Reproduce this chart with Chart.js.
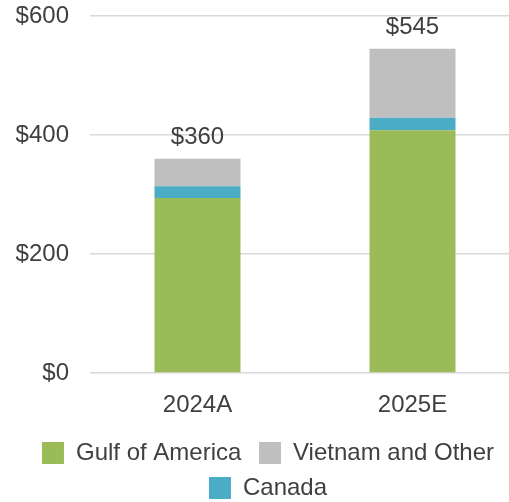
<!DOCTYPE html>
<html>
<head>
<meta charset="utf-8">
<script src="https://cdn.jsdelivr.net/npm/chart.js@4/dist/chart.umd.min.js"></script>
<style>
  html, body { margin: 0; padding: 0; background: #fff; overflow: hidden; }
  #wrap { width: 534px; height: 502px; }
</style>
</head>
<body>
<div id="wrap"><canvas id="barChart"></canvas></div>
<script>
// Data ($, stacked)
var categories = ['2024A', '2025E'];
var gulfOfAmerica = [294, 408];
var canada = [20, 21];
var vietnamOther = [46, 116];
var yTicks = [0, 200, 400, 600];

var textColor = '#404040';
var fontFamily = '"Liberation Sans", Arial, sans-serif';

// Total labels above each stack
var totalsPlugin = {
    id: 'totals',
    afterDatasetsDraw: function (chart) {
        var ctx = chart.ctx;
        var yScale = chart.scales.y;
        var xScale = chart.scales.x;
        ctx.save();
        ctx.font = '24px ' + fontFamily;
        ctx.fillStyle = textColor;
        ctx.textAlign = 'center';
        ctx.textBaseline = 'bottom';
        categories.forEach(function (c, i) {
            var total = gulfOfAmerica[i] + canada[i] + vietnamOther[i];
            var x = xScale.getPixelForValue(i);
            var y = yScale.getPixelForValue(total);
            ctx.fillText('$' + total, x, y - 9);
        });
        ctx.restore();
    }
};

var ctx = document.getElementById('barChart').getContext('2d');
var barChart = new Chart(ctx, {
    type: 'bar',
    data: {
        labels: categories,
        datasets: [{
            label: 'Gulf of America',
            data: gulfOfAmerica,
            backgroundColor: '#9BBB59',  // Green
            borderWidth: 0
        }, {
            label: 'Canada',
            data: canada,
            backgroundColor: '#4BACC6',  // Teal
            borderWidth: 0
        }, {
            label: 'Vietnam and Other',
            data: vietnamOther,
            backgroundColor: '#BFBFBF',  // Grey
            borderWidth: 0
        }]
    },
    options: {
        responsive: true,
        maintainAspectRatio: false,
        animation: false,
        categoryPercentage: 1,
        barPercentage: 0.4,
        layout: {
            padding: { top: 0, left: 16, right: 14, bottom: -8 }
        },
        plugins: {
            legend: {
                position: 'bottom',
                labels: {
                    color: textColor,
                    font: { size: 24, family: fontFamily },
                    boxWidth: 22,
                    boxHeight: 22,
                    padding: 11,
                    sort: function (a, b) {
                        var order = [0, 2, 1];
                        return order[a.datasetIndex] - order[b.datasetIndex];
                    },
                    generateLabels: function (chart) {
                        var items = Chart.defaults.plugins.legend.labels.generateLabels(chart);
                        items.forEach(function (it) {
                            if (it.datasetIndex === 0) it.text = it.text + ' ';
                        });
                        return items;
                    }
                }
            },
            tooltip: { enabled: false }
        },
        scales: {
            x: {
                stacked: true,
                grid: { display: false, drawTicks: false },
                border: { display: false },
                ticks: {
                    color: textColor,
                    font: { size: 24, family: fontFamily },
                    padding: 18
                },
                afterFit: function (scale) {
                    scale.height = 57;
                }
            },
            y: {
                stacked: true,
                min: yTicks[0],
                max: yTicks[yTicks.length - 1],
                afterBuildTicks: function (axis) {
                    axis.ticks = yTicks.map(function (v) { return { value: v }; });
                },
                grid: { color: '#D9D9D9', lineWidth: 1.5, drawTicks: false },
                border: { display: false },
                ticks: {
                    color: textColor,
                    font: { size: 24, family: fontFamily },
                    padding: 21,
                    callback: function (v) { return '$' + v; }
                },
                afterFit: function (scale) {
                    scale.width = 74;
                    scale.paddingTop = 16;
                    scale.paddingBottom = 0;
                }
            }
        }
    },
    plugins: [totalsPlugin]
});
</script>
</body>
</html>
